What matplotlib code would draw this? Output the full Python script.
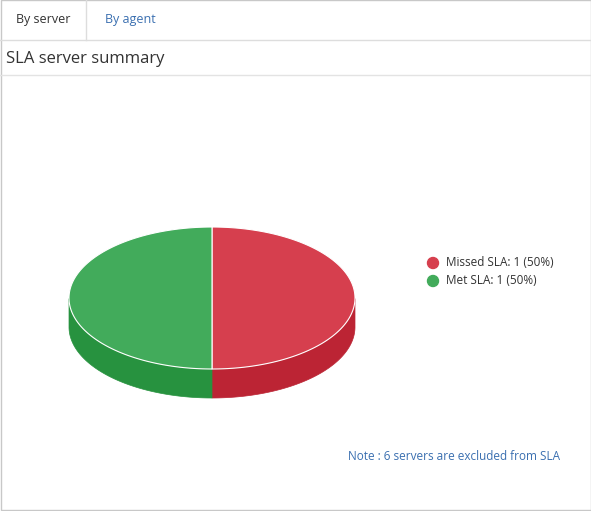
import numpy as np
import matplotlib
matplotlib.use("Agg")
import matplotlib.pyplot as plt
from matplotlib.patches import Polygon, Rectangle, Circle

labels = ["Missed SLA", "Met SLA"]
values = [1, 1]
top_colors = ["#d63f4e", "#42ab5b"]
side_colors = ["#bc2434", "#27923f"]
tabs = ["By server", "By agent"]
title = "SLA server summary"
note = "Note : 6 servers are excluded from SLA"

fig = plt.figure(figsize=(5.91, 5.11), dpi=100)
ax = fig.add_axes([0, 0, 1, 1])
ax.set_xlim(0, 591); ax.set_ylim(511, 0); ax.axis("off")

# frame
ax.add_patch(Rectangle((0.5, 0.5), 590, 510, fill=False, ec="#c8c8c8", lw=1))
ax.plot([0, 591], [40.5, 40.5], color="#dddddd", lw=1)
ax.plot([85.5, 85.5], [0, 40.5], color="#dddddd", lw=1)
ax.plot([0, 591], [75.5, 75.5], color="#e3e3e3", lw=1)
ax.text(43, 20, tabs[0], ha="center", va="center", fontsize=9, color="#333333", family="Open Sans")
ax.text(130, 20, tabs[1], ha="center", va="center", fontsize=9, color="#3a6fb0", family="Open Sans")
ax.text(6, 59, title, ha="left", va="center", fontsize=12, color="#333333", family="Open Sans")

cx, cy, rx, ry, depth = 212, 298, 143, 71, 29
total = sum(values)
start = 90.0
slices = []
for v in values:
    ext = 360.0 * v / total
    slices.append((start - ext, start))
    start -= ext

def pt(t, dy=0):
    r = np.radians(t)
    return cx + rx * np.cos(r), cy - ry * np.sin(r) + dy

# sides
for (a0, a1), sc in zip(slices, side_colors):
    ts = np.linspace(a0, a1, 200)
    ts = np.array([t for t in ts if np.sin(np.radians(t)) <= 1e-9])
    if len(ts) < 2:
        continue
    top = [pt(t) for t in ts]
    bot = [pt(t, depth) for t in ts[::-1]]
    ax.add_patch(Polygon(top + bot, closed=True, fc=sc, ec=sc, lw=0.5))
# tops
for (a0, a1), tc in zip(slices, top_colors):
    ts = np.linspace(a0, a1, 200)
    ax.add_patch(Polygon([(cx, cy)] + [pt(t) for t in ts], closed=True, fc=tc, ec="white", lw=0.8))

# legend
for i, (lab, v, c) in enumerate(zip(labels, values, top_colors)):
    y = 263 + i * 18
    ax.add_patch(Circle((433, y), 5.5, color=c))
    ax.text(446, y, f"{lab}: {v} ({100*v/total:.0f}%)", ha="left", va="center",
            fontsize=8.5, color="#333333", family="Open Sans")

ax.text(560, 456, note, ha="right", va="center", fontsize=8.5, color="#3a6fb0", family="Open Sans")

fig.savefig("out.png", dpi=100)
